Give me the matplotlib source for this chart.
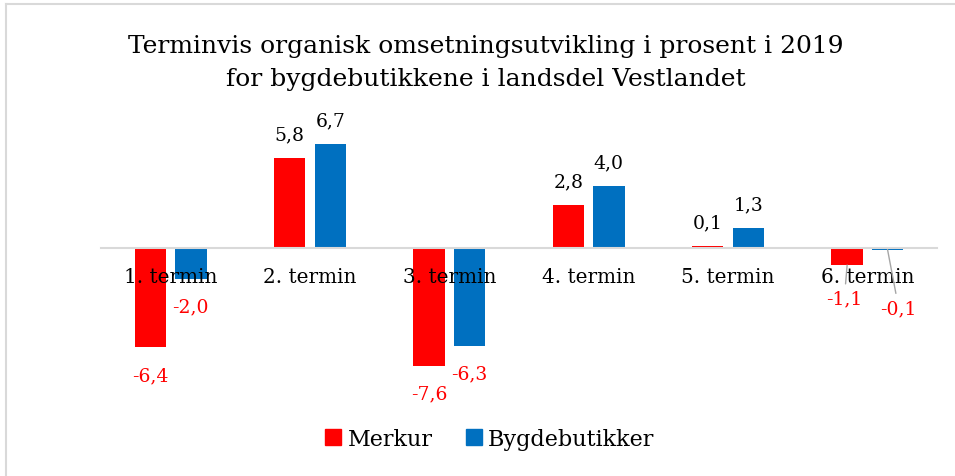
import matplotlib.pyplot as plt
from matplotlib.lines import Line2D
from matplotlib.patches import Patch
import numpy as np

# Data
terminer = ['1. termin', '2. termin', '3. termin', '4. termin', '5. termin', '6. termin']
merkur = [-6.4, 5.8, -7.6, 2.8, 0.1, -1.1]
bygdebutikker = [-2.0, 6.7, -6.3, 4.0, 1.3, -0.1]
serier = ['Merkur', 'Bygdebutikker']

rod = '#FF0000'
bla = '#0070C0'
gra = '#D9D9D9'

plt.rcParams['font.family'] = ['DejaVu Serif']

fig = plt.figure(figsize=(9.55, 4.77), dpi=100)
W, H = 955, 477
ax = fig.add_axes([101 / W, 1 - 402 / H, (937 - 101) / W, (402 - 112) / H])

x = np.arange(len(terminer))
bredde = 0.225
avstand = 0.145
b1 = ax.bar(x - avstand, merkur, bredde, color=rod)
b2 = ax.bar(x + avstand, bygdebutikker, bredde, color=bla)

ax.set_xlim(-0.5, len(terminer) - 0.5)
ax.set_ylim(-9.87, 8.84)

# x-akse i null
for s in ['top', 'right', 'left']:
    ax.spines[s].set_visible(False)
ax.spines['bottom'].set_position(('data', 0))
ax.spines['bottom'].set_color(gra)
ax.spines['bottom'].set_linewidth(1.5)
ax.set_yticks([])
ax.set_xticks(x)
ax.set_xticklabels(terminer, fontsize=14.4)
ax.tick_params(axis='x', length=0, pad=14)

def fmt(v):
    return f'{v:.1f}'.replace('.', ',')

# Verdietiketter
spesial = {(0, 5): (-2, -24), (1, 5): (8, -42)}
for si, (bars, verdier) in enumerate([(b1, merkur), (b2, bygdebutikker)]):
    for i, (bar, v) in enumerate(zip(bars, verdier)):
        cx = bar.get_x() + bar.get_width() / 2
        if (si, i) in spesial:
            dx, dy = spesial[(si, i)]
            ax.annotate(fmt(v), xy=(cx, v), xytext=(dx, dy), textcoords='offset points',
                        ha='center', va='center', color=rod, fontsize=13.5,
                        arrowprops=dict(arrowstyle='-', color='#A6A6A6', lw=1,
                                        shrinkA=2, shrinkB=0))
        elif v >= 0:
            ax.annotate(fmt(v), xy=(cx, v), xytext=(0, 17), textcoords='offset points',
                        ha='center', va='center', color='black', fontsize=13.5)
        else:
            ax.annotate(fmt(v), xy=(cx, v), xytext=(0, -20), textcoords='offset points',
                        ha='center', va='center', color=rod, fontsize=13.5)

# Tittel
fig.text(486 / W, 1 - 63 / H,
         'Terminvis organisk omsetningsutvikling i prosent i 2019\nfor bygdebutikkene i landsdel Vestlandet',
         ha='center', va='center', fontsize=18, linespacing=1.55)

# Forklaring
handles = [Patch(color=rod), Patch(color=bla)]
fig.legend(handles, serier, loc='center', bbox_to_anchor=(490 / W, 1 - 440 / H),
           ncol=2, frameon=False, fontsize=16, handlelength=0.7, handleheight=0.7,
           handletextpad=0.3, columnspacing=1.5)

# Ramme
fig.add_artist(Line2D([6 / W, 1], [1 - 5 / H, 1 - 5 / H], color=gra, lw=1.5))
fig.add_artist(Line2D([6 / W, 6 / W], [0, 1 - 5 / H], color=gra, lw=1.5))

fig.savefig('out.png', dpi=100)
